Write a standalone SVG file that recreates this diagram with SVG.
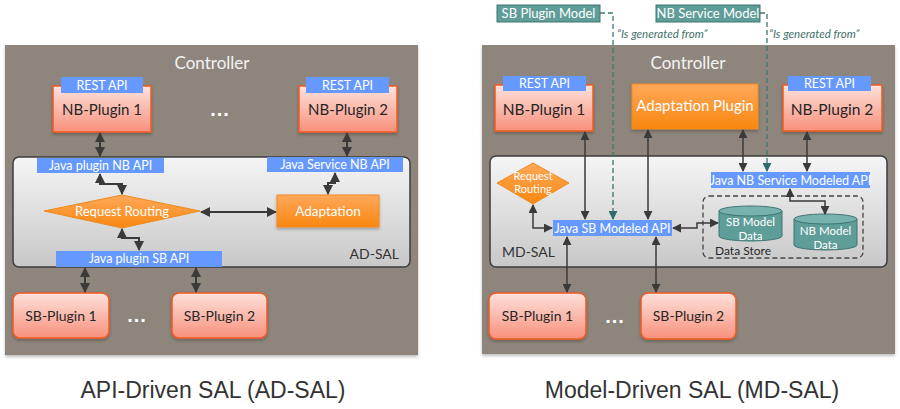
<svg xmlns="http://www.w3.org/2000/svg" width="900" height="409" viewBox="0 0 900 409">
<defs>
<style>
.panel{fill:#8e867c;}
.sal{fill:url(#gSal);stroke:#3d3d3d;stroke-width:1.5;}
.plug{fill:url(#gPink);stroke:#f05a22;stroke-width:1.5;}
.api{fill:#6699ff;}
.org{fill:url(#gOrg);stroke:#f08a1e;stroke-width:1;}
.teal{fill:#5f9d99;stroke:#3f7673;stroke-width:1;}
.t{font-family:Lato,"Open Sans","Liberation Sans",sans-serif;text-anchor:middle;}
.w{fill:#ffffff;}
.d{fill:#262626;}
.ctl{font-size:17px;fill:#f3f3f3;}
.api-t{font-size:12.5px;}
.cap{font-family:"Liberation Sans",Arial,sans-serif;font-size:23px;fill:#333333;text-anchor:middle;}
.dots{font-family:"Liberation Sans",Arial,sans-serif;font-size:20px;font-weight:bold;fill:#ffffff;text-anchor:middle;letter-spacing:1px;}
.ca{fill:none;stroke:#3a3a3a;stroke-width:2;marker-start:url(#aL);marker-end:url(#aL);}
.cb{fill:none;stroke:#3a3a3a;stroke-width:1.5;marker-start:url(#aR);marker-end:url(#aR);}
.cd{fill:none;stroke:#3f7673;stroke-width:1.3;stroke-dasharray:5,3;marker-end:url(#aT);}
.gen{font-family:Lato,"Open Sans","Liberation Sans",sans-serif;font-size:11.5px;font-style:italic;fill:#3f6f6c;}
.cyl{fill:#5f9d99;stroke:#3e7470;stroke-width:1;}
.cyltop{fill:#78b2ae;stroke:#3e7470;stroke-width:1;}
</style>
<linearGradient id="gSal" x1="0" y1="0" x2="0" y2="1"><stop offset="0" stop-color="#f5f5f5"/><stop offset="1" stop-color="#c8c8c8"/></linearGradient>
<linearGradient id="gPink" x1="0" y1="0" x2="0" y2="1"><stop offset="0" stop-color="#fde2dc"/><stop offset="1" stop-color="#f9907c"/></linearGradient>
<linearGradient id="gOrg" x1="0" y1="0" x2="0" y2="1"><stop offset="0" stop-color="#ffa85a"/><stop offset="1" stop-color="#f8870f"/></linearGradient>
<filter id="sh" x="-10%" y="-10%" width="120%" height="130%"><feDropShadow dx="0" dy="2" stdDeviation="1.5" flood-color="#000" flood-opacity="0.25"/></filter>
<marker id="aL" viewBox="0 0 10 10" refX="9" refY="5" markerWidth="10" markerHeight="10" markerUnits="userSpaceOnUse" orient="auto-start-reverse"><path d="M0,0 L10,5 L0,10 z" fill="#3a3a3a"/></marker>
<marker id="aR" viewBox="0 0 10 10" refX="9" refY="5" markerWidth="9" markerHeight="9" markerUnits="userSpaceOnUse" orient="auto-start-reverse"><path d="M0,0 L10,5 L0,10 z" fill="#3a3a3a"/></marker>
<marker id="aT" viewBox="0 0 10 10" refX="9" refY="5" markerWidth="9" markerHeight="9" markerUnits="userSpaceOnUse" orient="auto"><path d="M0,0 L10,5 L0,10 z" fill="#2f6b68"/></marker>
</defs>
<rect width="900" height="409" fill="#ffffff"/>

<!-- LEFT PANEL -->
<g id="left-controller">
<rect class="panel" x="5" y="45" width="413" height="310" filter="url(#sh)"/>
<text class="t ctl" x="212" y="69">Controller</text>
</g>
<g id="ad-sal">
<rect class="sal" x="13" y="157" width="397" height="110" rx="6"/>
<text class="t" x="399" y="259" style="text-anchor:end;font-size:14px;fill:#333">AD-SAL</text>
</g>
<g id="l-nb1">
<rect class="plug" x="53" y="86" width="98" height="46" filter="url(#sh)"/>
<rect class="api" x="61" y="77" width="82" height="16"/>
<text class="t w api-t" x="102" y="89.5">REST API</text>
<text class="t d" x="102" y="115" font-size="15">NB-Plugin 1</text>
</g>
<text class="dots" x="220" y="116" fill="#ffffff">...</text>
<g id="l-nb2">
<rect class="plug" x="299" y="86" width="98" height="46" filter="url(#sh)"/>
<rect class="api" x="306" y="77" width="83" height="16"/>
<text class="t w api-t" x="347.5" y="89.5">REST API</text>
<text class="t d" x="348" y="115" font-size="15">NB-Plugin 2</text>
</g>
<g id="l-jpnb">
<rect class="api" x="37" y="158" width="127" height="15"/>
<text class="t w api-t" x="100.5" y="169.5">Java plugin NB API</text>
</g>
<g id="l-jsnb">
<rect class="api" x="267" y="157" width="136" height="15"/>
<text class="t w api-t" x="335" y="168.5">Java Service NB API</text>
</g>
<g id="l-routing">
<polygon points="44,211 122,195 200,211 122,228" fill="url(#gOrg)" stroke="#f08a1e" stroke-width="1"/>
<text class="t w" x="122" y="216" font-size="13">Request Routing</text>
</g>
<g id="l-adapt">
<rect class="org" x="277" y="195" width="102" height="32" filter="url(#sh)"/>
<text class="t w" x="328" y="216" font-size="13.5">Adaptation</text>
</g>
<g id="l-jpsb">
<rect class="api" x="56" y="251" width="166" height="16"/>
<text class="t w api-t" x="139" y="263">Java plugin SB API</text>
</g>
<g id="l-sb1">
<rect class="plug" x="13" y="293" width="96" height="45" rx="7" filter="url(#sh)"/>
<text class="t d" x="61" y="320.5" font-size="14">SB-Plugin 1</text>
</g>
<text class="dots" x="137" y="322" fill="#ffffff">...</text>
<g id="l-sb2">
<rect class="plug" x="172" y="293" width="95" height="45" rx="7" filter="url(#sh)"/>
<text class="t d" x="219.5" y="320.5" font-size="14">SB-Plugin 2</text>
</g>
<g id="left-connectors">
<path class="ca" d="M100,133 V156"/>
<path class="ca" d="M347,133 V156"/>
<path class="ca" d="M100,174 V184 H122 V194"/>
<path class="ca" d="M335,173 V183 H328 V194"/>
<path class="ca" d="M201,212 H276"/>
<path class="ca" d="M122,229 V238 H139 V250"/>
<path class="ca" d="M85,268 V292"/>
<path class="ca" d="M196,268 V292"/>
</g>
<text class="cap" x="213" y="398">API-Driven SAL (AD-SAL)</text>

<!-- RIGHT PANEL -->
<g id="right-controller">
<rect class="panel" x="482" y="45" width="413" height="309" filter="url(#sh)"/>
<text class="t ctl" x="688" y="69">Controller</text>
</g>
<g id="sb-model">
<rect class="teal" x="497" y="5" width="103" height="17"/>
<text class="t w" x="548.5" y="18" font-size="13">SB Plugin Model</text>
</g>
<g id="nb-model">
<rect class="teal" x="656" y="5" width="104" height="17"/>
<text class="t w" x="708" y="18" font-size="13">NB Service Model</text>
</g>
<g id="md-sal">
<rect class="sal" x="490" y="156" width="397" height="111" rx="6"/>
<text class="t" x="502" y="257" style="text-anchor:start;font-size:14px;fill:#333">MD-SAL</text>
</g>
<g id="r-nb1">
<rect class="plug" x="495" y="85" width="98" height="46" filter="url(#sh)"/>
<rect class="api" x="503" y="76" width="83" height="15"/>
<text class="t w api-t" x="544.5" y="88">REST API</text>
<text class="t d" x="544" y="115" font-size="15.5">NB-Plugin 1</text>
</g>
<g id="r-adapt">
<rect class="org" x="632" y="84" width="126" height="45" filter="url(#sh)"/>
<text class="t w" x="695" y="111" font-size="15">Adaptation Plugin</text>
</g>
<g id="r-nb2">
<rect class="plug" x="783" y="85" width="99" height="46" filter="url(#sh)"/>
<rect class="api" x="788" y="76" width="83" height="15"/>
<text class="t w api-t" x="829.5" y="88">REST API</text>
<text class="t d" x="832" y="115" font-size="15.5">NB-Plugin 2</text>
</g>
<g id="r-jnb">
<rect class="api" x="711" y="172" width="159" height="16"/>
<text class="t w api-t" x="790.5" y="184.5">Java NB Service Modeled API</text>
</g>
<g id="r-jsb">
<rect class="api" x="553" y="220" width="119" height="16"/>
<text class="t w api-t" x="612.5" y="232.5">Java SB Modeled API</text>
</g>
<g id="r-routing">
<polygon points="497,183 533,163 569,183 533,204" fill="url(#gOrg)" stroke="#f08a1e" stroke-width="1"/>
<text class="t w" x="533" y="180" font-size="11">Request</text>
<text class="t w" x="533" y="193" font-size="11">Routing</text>
</g>
<g id="data-store">
<rect x="703" y="196" width="160" height="62" rx="6" fill="none" stroke="#444" stroke-width="1.3" stroke-dasharray="5,3"/>
<text class="t" x="743" y="255" font-size="12" fill="#262626">Data Store</text>
</g>
<g id="sb-data">
<path class="cyl" d="M719,211 V236 A31.5,5 0 0 0 782,236 V211"/>
<ellipse class="cyltop" cx="750.5" cy="211" rx="31.5" ry="5"/>
<text class="t w" x="750.5" y="226" font-size="11.5">SB Model</text>
<text class="t w" x="750.5" y="240" font-size="11.5">Data</text>
</g>
<g id="nb-data">
<path class="cyl" d="M794,219 V245 A31.5,5 0 0 0 857,245 V219"/>
<ellipse class="cyltop" cx="825.5" cy="219" rx="31.5" ry="5"/>
<text class="t w" x="825.5" y="235" font-size="11.5">NB Model</text>
<text class="t w" x="825.5" y="249" font-size="11.5">Data</text>
</g>
<g id="r-sb1">
<rect class="plug" x="489" y="293" width="97" height="46" rx="7" filter="url(#sh)"/>
<text class="t d" x="537.5" y="320.5" font-size="14">SB-Plugin 1</text>
</g>
<text class="dots" x="615" y="323" fill="#ffffff">...</text>
<g id="r-sb2">
<rect class="plug" x="641" y="293" width="95" height="46" rx="7" filter="url(#sh)"/>
<text class="t d" x="688.5" y="320.5" font-size="14">SB-Plugin 2</text>
</g>
<g id="right-connectors">
<path class="cd" d="M600,13 H613 V219"/>
<path class="cd" d="M760,13 H767 V171"/>
<path class="cb" d="M585,132 V219"/>
<path class="cb" d="M648,130 V219"/>
<path class="cb" d="M743,130 V171"/>
<path class="cb" d="M807,132 V171"/>
<path class="cb" d="M533,205 V228 H552"/>
<path class="cb" d="M673,228 H697 V223 H718"/>
<path class="cb" d="M790,189 V201 H825 V214"/>
<path class="cb" d="M567,237 V292"/>
<path class="cb" d="M656,237 V292"/>
</g>
<text class="gen" x="617" y="38">“Is generated from”</text>
<text class="gen" x="769" y="38">“Is generated from”</text>
<text class="cap" x="692" y="398">Model-Driven SAL (MD-SAL)</text>
</svg>
